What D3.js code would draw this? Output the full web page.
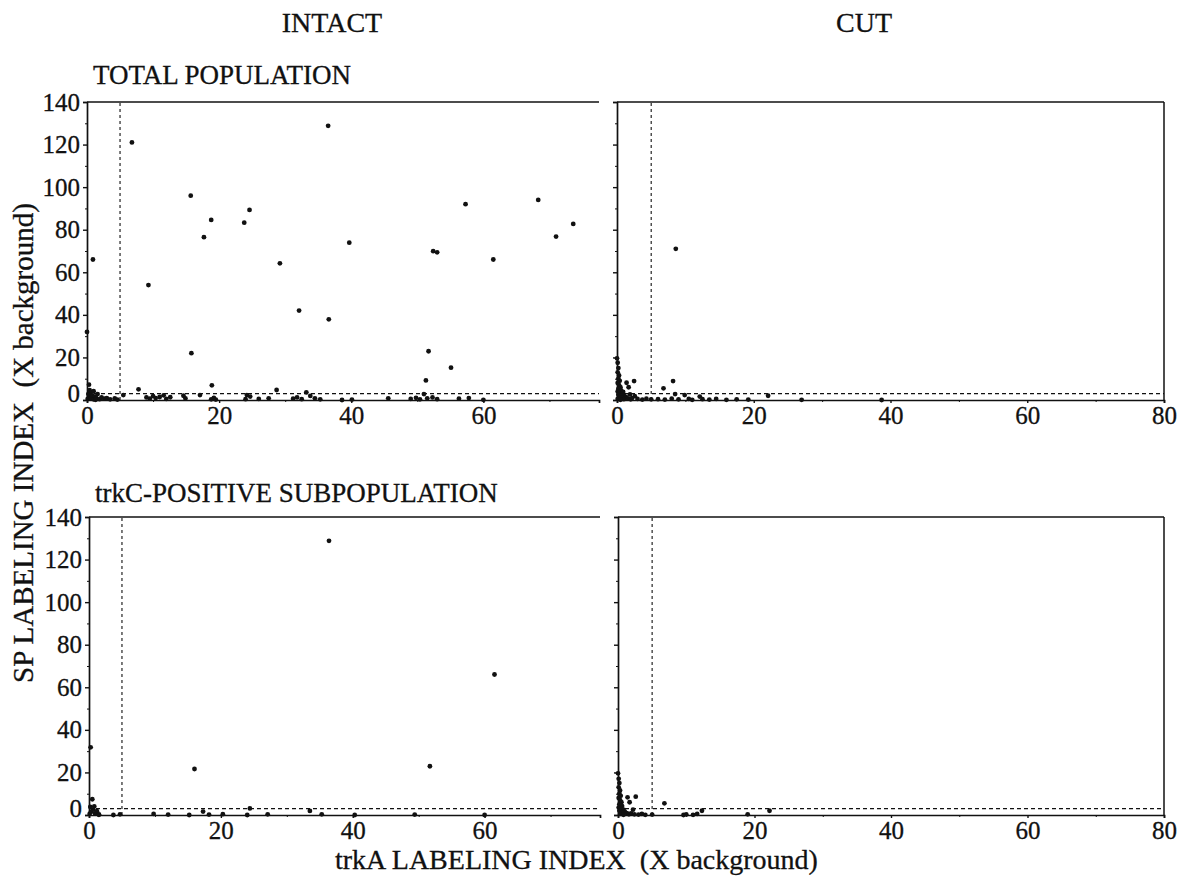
<!DOCTYPE html>
<html><head><meta charset="utf-8">
<script src="https://cdn.jsdelivr.net/npm/d3@7"></script>
<style>body{margin:0;background:#fff}svg{display:block}text{font-family:"Liberation Serif","Times New Roman",serif;fill:#111}</style>
</head><body><svg id="c" width="1179" height="880"></svg>
<script>
// ---- data ----
const yTickValues = [0,20,40,60,80,100,120,140];
const xTicksLeft = [0,20,40,60];
const xTicksRight = [0,20,40,60,80];
const thresholdX = 5;
const thresholdY = 3;

const intactTotal = [
 [6.8,121],[0.9,66],[0,32],[15.7,96],[15.8,22],[9.3,54],[17.7,76.5],[18.8,84.6],[23.8,83.3],[24.6,89.3],
 [29.2,64.2],[32.1,42],[36.5,128.8],[36.6,37.9],[39.7,73.9],[57.3,92],[68.3,94],[73.6,82.7],[71,76.8],
 [52.4,69.9],[53,69.4],[61.5,66],[51.7,22.9],[55.1,15.2],[51.3,9.2],
 [18.9,6.9],[0.3,7.2],[7.8,5],[28.7,4.7],[33.2,3.6],[51,2.8],
 [0.1,0.5],[0.3,1.5],[0.5,3.5],[0.6,0.8],[0.8,2.2],[1,0.3],[1.2,1.6],[1.4,0.9],[1.6,2.8],[1.9,0.4],
 [2.2,1.2],[0.2,2.8],[0.4,4.6],[1,4.1],[1.3,0.1],[2.6,0.6],[3,0.9],[3.5,0.3],[4.2,0.8],[4.6,0.2],[5.5,2.3],
 [9,1.2],[9.5,0.6],[10,1.8],[10.4,0.9],[11,1.4],[11.6,2.2],[12,0.5],[12.6,1.3],[14.6,2],[14.9,0.7],
 [17.1,2.3],[18.8,0.3],[19.2,1],[19.5,0.2],[24.2,2.3],[24.7,1.6],[24,0.4],[26,0.5],[27.5,0.8],
 [31.2,0.6],[31.8,1.2],[32.5,0.4],[33.8,1.9],[34.5,0.8],[35.3,0.3],[38.6,0],[40.1,0.2],[45.6,0.8],
 [49,0.5],[49.8,1],[50.4,0.3],[51.5,0.8],[52.3,1.2],[53,0.4],[56.3,0.6],[57.8,0.9],[60,0.1]
];
const cutTotal = [
 [8.6,71],[0,19.6],[0.1,17.5],[0.2,15],[0.1,13],[0.3,11.5],[0.2,10],[0.4,9],[0.1,8],[0.3,7],[0.5,6],
 [0.2,5.2],[0.6,4.5],[0.1,4],[0.4,3.5],[0.8,3],[0.2,2.5],[1,2.2],[0.5,1.8],[1.3,1.5],[0.3,1.2],[0.7,1],
 [1.6,0.8],[0.1,0.5],[1,0.4],[2,0.3],[0.5,0.1],[1.4,8.1],[2.5,8.9],[1.7,6],[0.9,3.8],[1.9,2.6],[2.6,1.8],
 [2.2,0.9],[3,0.5],[3.7,0.2],[4.3,0.6],[5,0.3],[6.8,5.5],[8.2,8.9],[8.5,2.8],[9.9,2.3],[6,0.4],[7,0.2],
 [8,0.6],[9,0.3],[10.5,0.5],[11,0.1],[12.1,1.6],[12.5,0.4],[13.5,0.2],[14.5,0.5],[16,0.1],[17.5,0.3],
 [19.2,0.2],[22.1,2],[27,0.1],[38.7,0]
];
const intactTrkC = [
 [36.4,128.8],[16,21.6],[0.25,31.8],[0.5,7.4],[51.7,22.9],[61.5,66],[0.1,0.5],[0.3,1.5],[0.6,2.5],
 [0.9,0.8],[1.2,1.8],[1.5,0.3],[0.2,3.8],[0.8,4],[1.5,0.1],[3.7,0],[4.7,0.3],[9.8,0.5],[12,0.2],
 [15.2,0],[17.3,1.6],[18.2,0.2],[20.3,0.4],[24,0],[24.4,3.1],[27.1,0.3],[33.5,1.9],[35.3,0.3],
 [40.3,0],[49.4,0.2],[60,0]
];
const cutTrkC = [
 [0,19.6],[0.1,17],[0.2,15],[0.1,13],[0.3,11.5],[0.2,10],[0.4,9],[0.1,8],[0.3,7],[0.5,6],[0.2,5],
 [0.6,4.2],[0.1,3.5],[0.4,3],[0.8,2.5],[0.2,2],[1,1.6],[0.5,1.2],[1.3,0.9],[0.3,0.5],[1.6,0.3],[0.8,0.1],
 [1.4,8.3],[2.6,8.6],[1.7,6],[2.2,2.5],[1.9,0.8],[2.4,0.3],[3,0.2],[3.5,0.5],[4,0.1],[5,0.2],[6.8,5.5],
 [9.6,0],[10,0.3],[11,0.1],[11.6,0.5],[12.3,2],[19,0.3],[22.2,2]
];

// ---- drawing ----
const svg = d3.select("#c");
const ink = "#111";

function panel(opts){
  const x = d3.scaleLinear().domain(opts.xDomain).range([opts.x0, opts.x1]);
  const y = d3.scaleLinear().domain([0,140]).range([opts.y0, opts.y1]);
  const g = svg.append("g");
  g.append("line").attr("x1",opts.x0).attr("x2",opts.x1).attr("y1",opts.y1).attr("y2",opts.y1)
    .attr("stroke",ink).attr("stroke-width",1.5);
  if(opts.rightBorder){
    g.append("line").attr("x1",opts.x1).attr("x2",opts.x1).attr("y1",opts.y1).attr("y2",opts.y0)
      .attr("stroke",ink).attr("stroke-width",1.5);
  }
  const ya = d3.axisLeft(y).tickValues(yTickValues).tickSize(4).tickPadding(3)
    .tickFormat(opts.yLabels ? d3.format("d") : "");
  const yg = g.append("g").attr("transform",`translate(${opts.x0},0)`).call(ya);
  const yMinor = d3.axisLeft(y).tickValues(d3.range(10,140,20)).tickSize(2).tickFormat("");
  g.append("g").attr("transform",`translate(${opts.x0},0)`).call(yMinor).select(".domain").remove();
  const xa = d3.axisBottom(x).tickValues(opts.xTicks).tickSize(3).tickPadding(3).tickFormat(d3.format("d"));
  const xg = g.append("g").attr("transform",`translate(0,${opts.y0})`).call(xa);
  const xMinor = d3.axisBottom(x).tickValues(d3.range(10, opts.xDomain[1], 20)).tickSize(2).tickFormat("");
  g.append("g").attr("transform",`translate(0,${opts.y0})`).call(xMinor).select(".domain").remove();
  [yg,xg].forEach(a=>{
    a.select(".domain").attr("stroke",ink).attr("stroke-width",1.7);
    a.selectAll(".tick line").attr("stroke",ink).attr("stroke-width",1.4);
    a.selectAll("text").style("font-size","25px").attr("fill",ink)
      .style("font-family","'Liberation Serif',serif").attr("stroke",ink).attr("stroke-width",0.3);
  });
  g.selectAll(".tick line").attr("stroke",ink);
  yg.selectAll(".tick text").filter(d=>d===0).attr("dy","0.05em");
  g.append("line").attr("x1",x(thresholdX)).attr("x2",x(thresholdX)).attr("y1",y(0)).attr("y2",y(140))
    .attr("stroke",ink).attr("stroke-width",1.1).attr("stroke-dasharray","3,3");
  g.append("line").attr("x1",x(0)).attr("x2",opts.x1).attr("y1",y(thresholdY)).attr("y2",y(thresholdY))
    .attr("stroke",ink).attr("stroke-width",1.1).attr("stroke-dasharray","4,3");
  g.selectAll("circle").data(opts.data).join("circle")
    .attr("cx",d=>x(d[0])).attr("cy",d=>y(d[1])).attr("r",2.4).attr("fill",ink);
}

panel({data:intactTotal, xDomain:[0,77.5], xTicks:xTicksLeft, x0:87, x1:599, y0:400, y1:102, yLabels:true, rightBorder:false});
panel({data:cutTotal, xDomain:[0,80], xTicks:xTicksRight, x0:617, x1:1164, y0:400, y1:102, yLabels:false, rightBorder:true});
panel({data:intactTrkC, xDomain:[0,77.5], xTicks:xTicksLeft, x0:89, x1:600, y0:815, y1:517, yLabels:true, rightBorder:false});
panel({data:cutTrkC, xDomain:[0,80], xTicks:xTicksRight, x0:618, x1:1164, y0:815, y1:517, yLabels:false, rightBorder:true});

function txt(s, x, y, size, anchor, rot){
  const t = svg.append("text").text(s).attr("x",x).attr("y",y).style("font-size",size+"px")
    .style("white-space","pre").attr("text-anchor",anchor).attr("stroke",ink).attr("stroke-width",0.3);
  if(rot) t.attr("transform",`rotate(${rot},${x},${y})`);
  return t;
}
txt("INTACT", 332, 32, 28, "middle");
txt("CUT", 864, 32, 28, "middle");
txt("TOTAL POPULATION", 93, 84, 27, "start");
txt("trkC-POSITIVE SUBPOPULATION", 95, 502, 27, "start");
txt("SP LABELING INDEX  (X background)", 33, 443, 29, "middle", -90);
txt("trkA LABELING INDEX  (X background)", 335, 869, 28, "start");
</script></body></html>
